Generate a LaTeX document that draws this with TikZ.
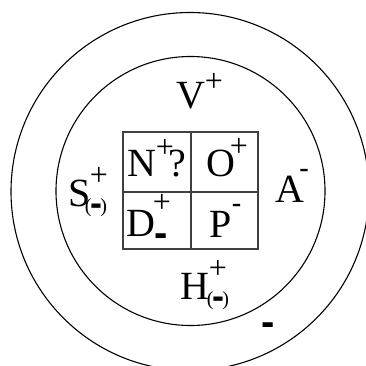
\documentclass[tikz,border=0pt]{standalone}
\usepackage{fontspec}
\setmainfont{Liberation Serif}
\newfontfamily\dashfont{Liberation Sans}
\newfontfamily\dashfontb{Liberation Sans Bold}
\newcommand{\pardash}{{\fontsize{20}{20}\selectfont(}\kern-1.5pt\raisebox{-3.8pt}{\dashfontb\fontsize{36}{36}\selectfont -}\kern-1.5pt{\fontsize{20}{20}\selectfont)}}
\begin{document}
\begin{tikzpicture}[x=1pt,y=-1pt,
  ring/.style={draw=black,line width=1.1pt},
  grid/.style={draw=black!75,line width=1.3pt},
  lbl/.style={inner sep=0pt,anchor=base,font=\fontsize{40}{40}\selectfont},
  supl/.style={inner sep=0pt,anchor=base,font=\fontsize{32}{32}\selectfont},
  thin/.style={inner sep=0pt,anchor=base,font=\dashfont\fontsize{30}{30}\selectfont},
  thick/.style={inner sep=0pt,anchor=base,font=\dashfontb\fontsize{40}{40}\selectfont},
  pd/.style={inner sep=0pt,anchor=base}]
\useasboundingbox (0,0) rectangle (366,365);
\clip (0,0) rectangle (366,365);
% rings
\draw[ring] (190,191.5) circle[radius=179pt];
\draw[ring] (190.5,191) circle[radius=134.5pt];
% box
\draw[grid] (123,132) rectangle (258,249);
\draw[grid] (191,132) -- (191,249);
\draw[grid] (123,192) -- (258,192);
% V
\node[lbl] (V) at (191,108) {V};
\node[supl] (Vp) at (214,91) {+};
% N ?
\node[lbl] (N) at (141.5,176) {N};
\node[supl] (Np) at (165,157) {+};
\node[lbl] (Nq) at (177.5,176) {?};
% O
\node[lbl] (O) at (221,176) {O};
\node[supl] (Op) at (239,156) {+};
% S
\node[lbl] (S) at (79.5,206) {S};
\node[supl] (Sp) at (99,185) {+};
\node[pd] (Sm) at (96,212) {\pardash};
% A
\node[lbl] (A) at (290,202) {A};
\node[thin] (Am) at (304,178) {-};
% D
\node[lbl] (D) at (141,236) {D};
\node[supl] (Dp) at (162,212) {+};
\node[thick] (Dm) at (161,246) {-};
% P
\node[lbl] (P) at (221,237) {P};
\node[thin] (Pm) at (236.5,213.5) {-};
% H
\node[lbl] (H) at (194.5,299) {H};
\node[supl] (Hp) at (218,278) {+};
\node[pd] (Hm) at (218,305) {\pardash};
% lone minus
\node[thick] (L) at (268,335) {-};
\end{tikzpicture}
\end{document}
